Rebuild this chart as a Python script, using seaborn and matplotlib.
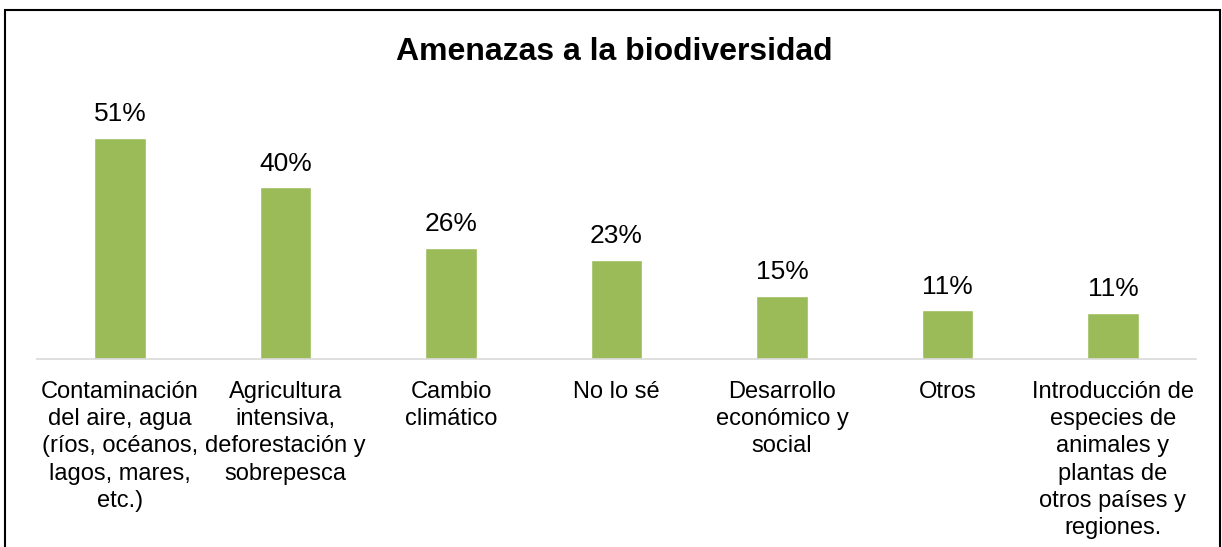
import pandas as pd
import matplotlib
matplotlib.use("Agg")
from matplotlib import pyplot as plt
from matplotlib.patches import Rectangle
import seaborn as sns

categorias = [
    "Contaminación\ndel aire, agua\n(ríos, océanos,\nlagos, mares,\netc.)",
    "Agricultura\nintensiva,\ndeforestación y\nsobrepesca",
    "Cambio\nclimático",
    "No lo sé",
    "Desarrollo\neconómico y\nsocial",
    "Otros",
    "Introducción de\nespecies de\nanimales y\nplantas de\notros países y\nregiones.",
]
porcentajes = [51.0, 39.6, 25.6, 22.9, 14.6, 11.2, 10.7]

df = pd.DataFrame({"categoria": categorias, "porcentaje": porcentajes})

sns.set_style("white")
plt.rcParams['font.family'] = ['Liberation Sans', 'DejaVu Sans']
plt.rcParams['text.color'] = 'black'

fig = plt.figure(figsize=(12.22, 5.47), dpi=100)
ax = fig.add_axes([0.0305, 0.3437, 0.948, 0.4753])

sns.barplot(data=df, x="categoria", y="porcentaje", color="#9BBB59",
            width=0.31, saturation=1, ax=ax)

ax.bar_label(ax.containers[0], labels=[f"{v:.0f}%" for v in porcentajes],
             padding=8.5, fontsize=19, color="black")

ax.set_ylim(0, 60)
ax.set_xlim(-0.5, len(categorias) - 0.5)
ax.set_xlabel("")
ax.set_ylabel("")
ax.set_yticks([])
ax.tick_params(axis="x", length=0, pad=16)
for lbl in ax.get_xticklabels():
    lbl.set_fontsize(17)
    lbl.set_linespacing(1.3)
    lbl.set_color("black")
sns.despine(ax=ax, left=True, top=True, right=True)
ax.spines["bottom"].set_color("#D9D9D9")
ax.spines["bottom"].set_linewidth(1.2)

fig.text(0.5025, 0.905, "Amenazas a la biodiversidad", ha="center", va="center",
         fontsize=23, fontweight="bold", color="black")

fig.patches.append(Rectangle((0.0045, -0.05), 0.9935, 0.981 + 0.05,
                             transform=fig.transFigure, fill=False,
                             edgecolor="black", linewidth=1.5, clip_on=False))

fig.savefig("out.png", dpi=100)
